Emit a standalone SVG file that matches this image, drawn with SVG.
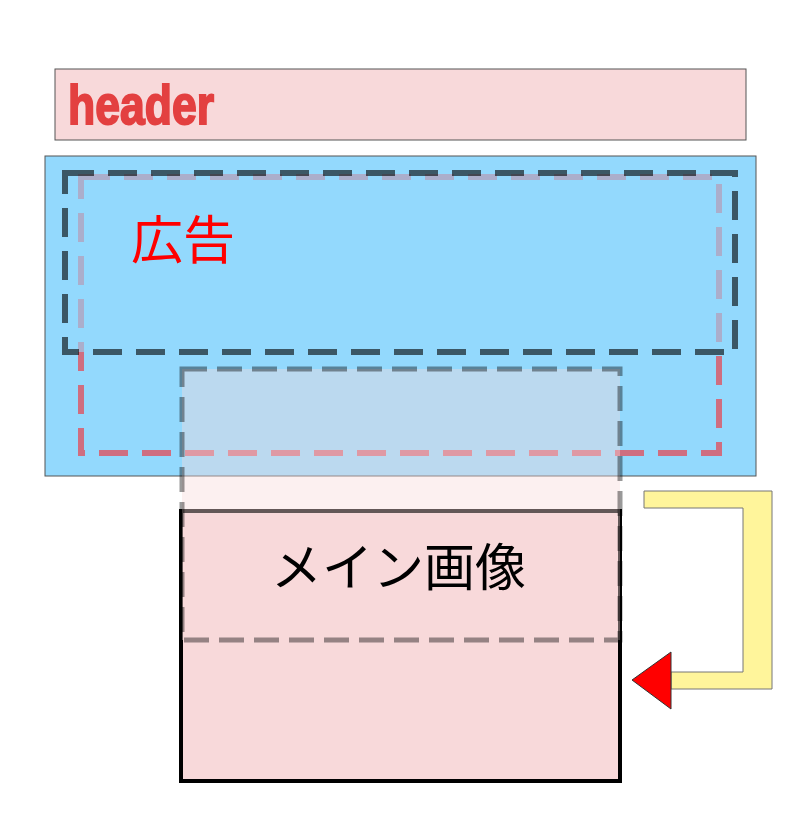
<svg xmlns="http://www.w3.org/2000/svg" width="800" height="831" viewBox="0 0 800 831">
<style>
.jp{font-family:"Noto Sans CJK JP","Noto Sans",sans-serif;}
.thin{stroke:#555;stroke-width:1;}
</style>
<rect width="800" height="831" fill="#fff"/>
<g id="header">
<rect x="55" y="69" width="691" height="71" fill="#f8d9da" class="thin"/>
<text x="68" y="124" font-family="'Liberation Sans',Arial,sans-serif" font-weight="bold" font-size="56" fill="#e34040" stroke="#e34040" stroke-width="2" textLength="146" lengthAdjust="spacingAndGlyphs">header</text>
</g>
<g id="ad-area">
<rect x="45" y="156" width="711" height="320" fill="#93d9fd" class="thin"/>
<rect id="ad-red" x="81" y="177" width="638" height="276" fill="none" stroke="#cf6e80" stroke-width="6" stroke-dasharray="29 14"/>
<rect id="ad-dark" x="65" y="173" width="670" height="179" fill="#93d9fd" fill-opacity="0.6" stroke="#000" stroke-opacity="0.6" stroke-width="6" stroke-dasharray="29 14"/>
<text x="131" y="259" class="jp" font-size="52" fill="#ff0000">広告</text>
</g>
<g id="main-image">
<rect x="181" y="511" width="439" height="270" fill="#f8d9da" stroke="#000" stroke-width="4"/>
</g>
<g id="overlay">
<rect x="182" y="369" width="438" height="271" fill="#f8d9da" fill-opacity="0.4" stroke="#000" stroke-opacity="0.4" stroke-width="5" stroke-dasharray="25 10"/>
</g>
<g id="main-image-label">
<text x="271" y="586" class="jp" font-size="51" fill="#000">メイン画像</text>
</g>
<g id="connectors">
<path d="M644,491 H772 V689 H671 V672 H743 V508 H644 Z" fill="#fff59b" stroke="#777" stroke-width="1"/>
<path d="M632,680 L671,652 L671,709 Z" fill="#ff0000" stroke="#333" stroke-width="1"/>
</g>
</svg>
